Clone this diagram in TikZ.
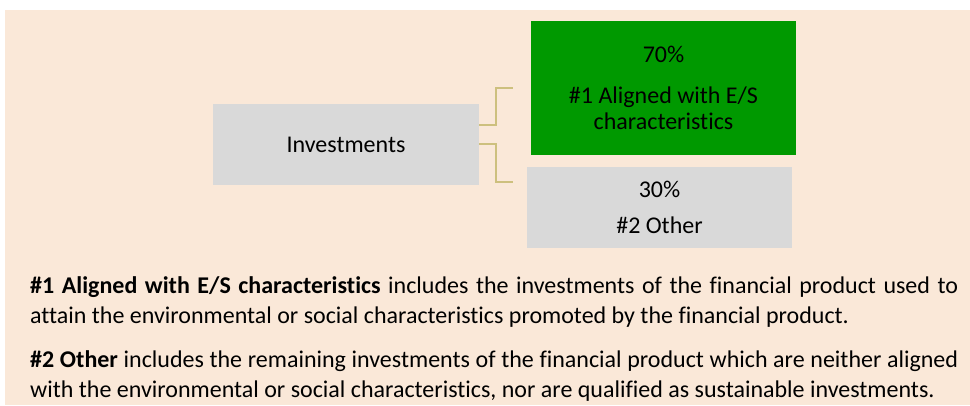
\documentclass[tikz,border=0pt]{standalone}
\usepackage{fontspec}
\setmainfont{Carlito}[Ligatures={NoCommon}]
\definecolor{peach}{HTML}{FAE8D8}
\definecolor{esgreen}{HTML}{009900}
\definecolor{boxgray}{HTML}{D9D9D9}
\definecolor{olive}{HTML}{CDC07E}
\tikzset{
  box/.style={rectangle, inner sep=0pt, anchor=north west},
  lbl/.style={anchor=base, inner sep=0pt, font=\fontsize{24}{28}\selectfont},
  body/.style={anchor=base west, inner sep=0pt, font=\fontsize{24}{28}\selectfont},
  conn/.style={draw=olive, line width=2.2pt}
}
\begin{document}
\begin{tikzpicture}[x=1pt,y=-1pt]
\useasboundingbox (0,0) rectangle (970,405);
\fill[white] (0,0) rectangle (970,405);
\fill[peach] (5,10) rectangle (970,405);
% boxes
\node[box, fill=boxgray, minimum width=266pt, minimum height=81pt] (inv) at (213,104) {};
\node[box, fill=esgreen, minimum width=265pt, minimum height=134pt] (aligned) at (531,21) {};
\node[box, fill=boxgray, minimum width=265pt, minimum height=81pt] (other) at (527,167) {};
% box labels
\node[lbl] (invtxt) at (346,152) {Investments};
\node[lbl] (p70) at (663.5,62) {70\%};
\node[lbl] (a1) at (663.5,103) {\#1 Aligned with E/S};
\node[lbl] (a2) at (663.5,129) {characteristics};
\node[lbl] (p30) at (659.5,197) {30\%};
\node[lbl] (o1) at (659.5,233) {\#2 Other};
% connectors
\coordinate (j1) at (496,125);
\coordinate (t1) at (496,88);
\coordinate (e1) at (513,88);
\coordinate (j2) at (496,144);
\coordinate (t2) at (496,182);
\coordinate (e2) at (513,182);
\draw[conn] (inv.east |- j1) -- (j1) -- (t1) -- (e1);
\draw[conn] (inv.east |- j2) -- (j2) -- (t2) -- (e2);
% body text
\node[body] (l1) at (30,293) {\makebox[928pt][s]{\textbf{\#1 Aligned with E/S characteristics} includes the investments of the financial product used to}};
\node[body] (l2) at (30,323) {attain the environmental or social characteristics promoted by the financial product.};
\node[body] (l3) at (30,367) {\makebox[928pt][s]{\textbf{\#2 Other} includes the remaining investments of the financial product which are neither aligned}};
\node[body] (l4) at (30,397) {with the environmental or social characteristics, nor are qualified as sustainable investments.};
\end{tikzpicture}
\end{document}
